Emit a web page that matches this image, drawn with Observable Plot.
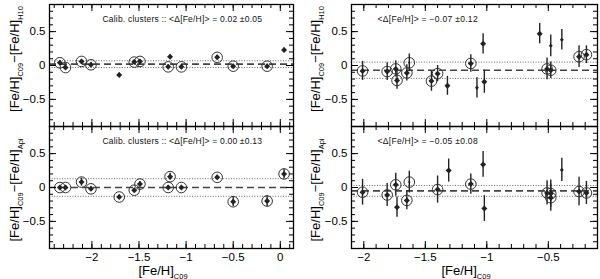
<!DOCTYPE html>
<html><head><meta charset="utf-8">
<script src="https://cdn.jsdelivr.net/npm/d3@7"></script>
<script src="https://cdn.jsdelivr.net/npm/@observablehq/plot@0.6"></script>
<style>
body{margin:0;background:#fff;}
#chart{position:relative;width:600px;height:279px;font-family:"Liberation Sans",Arial,sans-serif;}
#chart svg{position:absolute;top:0;overflow:visible;}
</style></head><body><div id="chart"></div>
<script>
// ---- data ----
const calibX = [-2.34,-2.28,-2.11,-2.01,-1.71,-1.55,-1.49,-1.17,-1.19,-1.05,-0.67,-0.50,-0.14,0.04];
const tlY   = [0.04,-0.03,0.06,0.01,-0.14,0.05,0.06,0.13,-0.02,-0.02,0.12,-0.01,-0.01,0.23];
const tlErr = [0.03,0.03,0.03,0.03,0.03,0.03,0.03,0.03,0.03,0.03,0.03,0.03,0.03,0.03];
const tlSym = ["c","c","c","c","d","c","c","d","c","c","c","c","c","d"];
const blY   = [0.00,0.00,0.08,-0.02,-0.14,-0.04,0.05,0.16,0.00,0.00,0.15,-0.21,-0.20,0.20];
const blErr = [0.03,0.03,0.06,0.03,0.03,0.03,0.04,0.05,0.03,0.03,0.03,0.07,0.08,0.07];
const blSym = ["c","c","c","c","c","c","c","c","c","c","c","c","c","c"];

const trX   = [-2.01,-1.81,-1.74,-1.73,-1.65,-1.63,-1.45,-1.40,-1.32,-1.13,-1.08,-1.03,-1.02,-0.57,-0.51,-0.48,-0.48,-0.39,-0.25,-0.19];
const trY   = [-0.08,-0.09,-0.05,-0.22,-0.11,0.04,-0.23,-0.12,-0.30,0.03,-0.33,0.32,-0.24,0.47,-0.05,-0.07,0.29,0.38,0.13,0.16];
const trErr = [0.14,0.13,0.12,0.13,0.12,0.13,0.15,0.12,0.14,0.13,0.15,0.15,0.17,0.15,0.16,0.12,0.16,0.15,0.16,0.13];
const trSym = ["c","c","c","c","c","o","c","c","d","c","p","d","d","d","c","c","p","p","c","c"];

const brX   = [-2.01,-1.81,-1.74,-1.73,-1.65,-1.63,-1.40,-1.31,-1.13,-1.03,-1.02,-0.51,-0.48,-0.48,-0.39,-0.25,-0.19];
const brY   = [-0.07,-0.11,0.04,-0.29,-0.19,0.08,-0.03,0.25,0.05,0.34,-0.31,-0.08,-0.09,-0.15,0.26,-0.06,-0.08];
const brErr = [0.19,0.17,0.17,0.15,0.14,0.16,0.20,0.17,0.15,0.19,0.19,0.18,0.20,0.20,0.17,0.21,0.17];
const brSym = ["c","c","c","d","c","o","c","d","c","d","d","c","c","c","p","c","c"];

const means = {tl:0.02, bl:0.00, tr:-0.07, br:-0.05};
const sigmas = {tl:0.05, bl:0.13, tr:0.12, br:0.08};
const notes = {
  tl:"Calib. clusters :: <Δ[Fe/H]> = 0.02 ±0.05",
  bl:"Calib. clusters :: <Δ[Fe/H]> = 0.00 ±0.13",
  tr:"<Δ[Fe/H]> = −0.07 ±0.12",
  br:"<Δ[Fe/H]> = −0.05 ±0.08"
};
const xTicksLeft = [-2,-1.5,-1,-0.5,0];
const xTicksRight = [-2,-1.5,-1,-0.5];
const yTicks = [-0.5,0,0.5];
const xDomainLeft = [-2.45,0.14];
const xDomainRight = [-2.1,-0.1];
const yDomain = [-0.9,0.9];
const ySubs = {tl:"H10", bl:"Api", tr:"H10", br:"Api"};

const fmt = d => (d<0 ? "−" : "") + String(Math.abs(d));
function rows(xs, ys, es, ss){ return xs.map((x,i)=>({x, y:ys[i], e:es[i], s:ss[i]})); }

function panel(key, data, col, row){
  const isLeft = col===0;
  const H = 122;
  const mt = row===0 ? 4 : 126;
  const mb = 279 - mt - H;
  const ml = isLeft ? 49 : 51;
  const mr = isLeft ? 7 : 3;
  const W = 300 - ml - mr;
  const xDomain = isLeft ? xDomainLeft : xDomainRight;
  const xMajor = isLeft ? xTicksLeft : xTicksRight;
  const xMinor = d3.range(Math.ceil(xDomain[0]*10), Math.floor(xDomain[1]*10)+1).map(v=>v/10);
  const yMinor = d3.range(-8, 9).map(v=>v/10);
  const major=7, minor=4;
  const ink = "#222";
  const marks = [
    Plot.ruleY([means[key]-sigmas[key], means[key]+sigmas[key]], {stroke:"#666", strokeWidth:1, strokeDasharray:"1,1.6"}),
    Plot.ruleY([means[key]], {stroke:"#444", strokeWidth:1.6, strokeDasharray:"7,4"}),
    Plot.ruleX(data, {x:"x", y1:d=>d.y-d.e, y2:d=>d.y+d.e, stroke:ink, strokeWidth:1.4}),
    Plot.dot(data.filter(d=>d.s==="c"||d.s==="o"), {x:"x", y:"y", r:5.3, stroke:"#333", strokeWidth:1, fill:"none"}),
    Plot.dot(data.filter(d=>d.s==="c"||d.s==="d"), {x:"x", y:"y", symbol:"square", rotate:45, r:2.4, fill:ink, stroke:"none"}),
    Plot.dot(data.filter(d=>d.s==="p"), {x:"x", y:"y", symbol:"square", rotate:45, r:1.6, fill:ink, stroke:"none"}),
    Plot.dot(data.filter(d=>d.s==="o"), {x:"x", y:"y", r:1.1, fill:ink, stroke:"none"}),
    // inward ticks: bottom & top
    Plot.ruleX(xMajor, {insetTop:H-major, stroke:"black", strokeWidth:1}),
    Plot.ruleX(xMinor, {insetTop:H-minor, stroke:"black", strokeWidth:1}),
    Plot.ruleX(xMajor, {insetBottom:H-major, stroke:"black", strokeWidth:1}),
    Plot.ruleX(xMinor, {insetBottom:H-minor, stroke:"black", strokeWidth:1}),
    // inward ticks: left & right
    Plot.ruleY(yTicks, {insetRight:W-major, stroke:"black", strokeWidth:1}),
    Plot.ruleY(yMinor, {insetRight:W-minor, stroke:"black", strokeWidth:1}),
    Plot.ruleY(yTicks, {insetLeft:W-major, stroke:"black", strokeWidth:1}),
    Plot.ruleY(yMinor, {insetLeft:W-minor, stroke:"black", strokeWidth:1}),
    Plot.frame({stroke:"black", strokeWidth:1.3}),
    Plot.axisY({ticks:yTicks, tickSize:0, tickPadding:4, label:null, fontSize:11.5, tickFormat:fmt}),
    Plot.text([notes[key]], {frameAnchor:"top-left", dx: isLeft?53:26, dy:11, textAnchor:"start", fontSize:8.5, fill:"#111"})
  ];
  if (row===1) marks.push(Plot.axisX({ticks:xMajor, tickSize:0, tickPadding:4, label:null, fontSize:11.5, tickFormat:fmt}));
  const svg = Plot.plot({
    width:300, height:279,
    marginLeft:ml, marginRight:mr, marginTop:mt, marginBottom:mb,
    x:{domain:xDomain, axis: row===1 ? undefined : null, label:null},
    y:{domain:yDomain, label:null},
    style:{background:"transparent", fontFamily:'"Liberation Sans",Arial,sans-serif', fontSize:"12px", overflow:"visible"},
    marks
  });
  svg.style.left = (isLeft?0:300)+"px";
  d3.select(svg).selectAll("text").filter(function(){ return this.textContent.indexOf("Δ")>=0; })
    .attr("letter-spacing", isLeft ? 0.2 : 0.3);
  document.getElementById("chart").appendChild(svg);
}

panel("tl", rows(calibX, tlY, tlErr, tlSym), 0, 0);
panel("bl", rows(calibX, blY, blErr, blSym), 0, 1);
panel("tr", rows(trX, trY, trErr, trSym), 1, 0);
panel("br", rows(brX, brY, brErr, brSym), 1, 1);

// axis titles with subscripts
const ov = d3.select("#chart").append("svg").attr("width",600).attr("height",279).style("left","0px")
  .style("font-family",'"Liberation Sans",Arial,sans-serif');
function title(tx, ty, rot, parts){
  const t = ov.append("text").attr("transform",`translate(${tx},${ty}) rotate(${rot})`)
    .attr("text-anchor","middle").attr("font-size",13).attr("fill","black");
  let shifted=false;
  parts.forEach(([s,sub])=>{
    const sp = t.append("tspan").text(s);
    if (sub && !shifted){ sp.attr("font-size",7.5).attr("dy",3.5); shifted=true; }
    else if (!sub && shifted){ sp.attr("dy",-3.5); shifted=false; }
    else if (sub) sp.attr("font-size",7.5);
  });
}
title(163, 275, 0, [["[Fe/H]"],["C09",1]]);
title(466, 275, 0, [["[Fe/H]"],["C09",1]]);
[["tl",19,59],["bl",19,190],["tr",320,59],["br",320,190]].forEach(([k,x,y])=>{
  title(x, y, -90, [["[Fe/H]"],["C09",1],["−[Fe/H]"],[ySubs[k],1]]);
});
</script></body></html>
